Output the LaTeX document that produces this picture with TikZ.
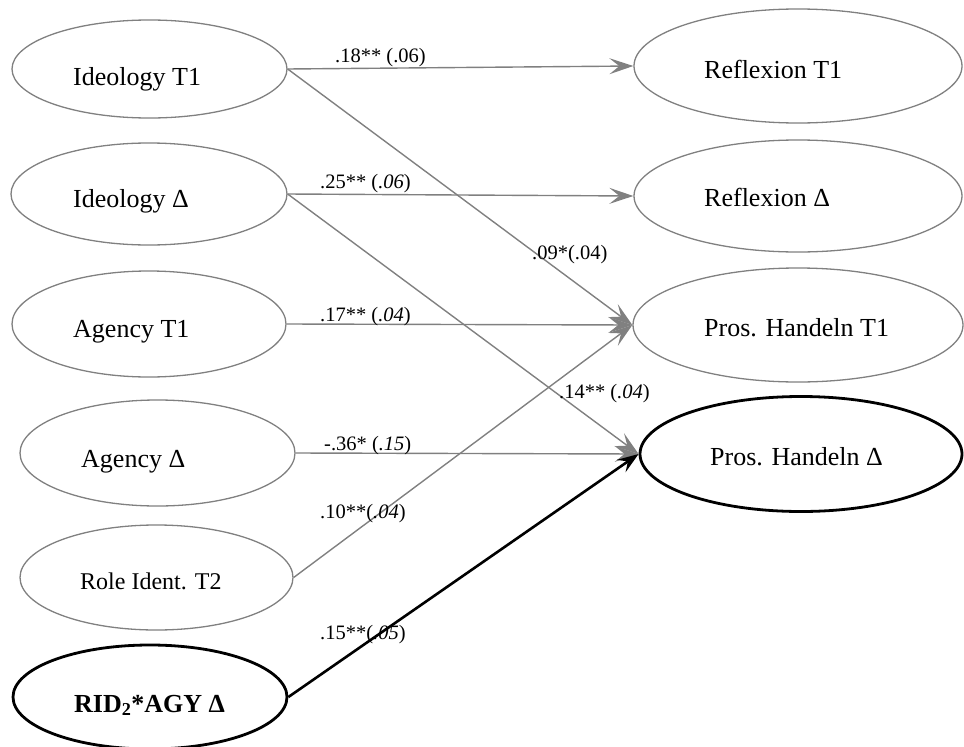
\documentclass[tikz,border=0pt]{standalone}
\usepackage{fontspec}
\setmainfont{Liberation Serif}
\usetikzlibrary{shapes.geometric,arrows.meta}
\definecolor{pathgray}{HTML}{808080}

\begin{document}
\begin{tikzpicture}[x=1pt,y=-1pt,
  latent/.style={ellipse, draw=pathgray, line width=1.3pt, inner sep=0pt},
  keylatent/.style={ellipse, draw=black, line width=2.8pt, inner sep=0pt},
  varname/.style={anchor=base west, inner sep=0pt, font=\fontsize{26}{30}\selectfont},
  coef/.style={anchor=base west, inner sep=0pt, font=\fontsize{20.5}{24}\selectfont},
  pathline/.style={draw=pathgray, line width=1.4pt, -{Stealth[length=24pt,width=16pt,inset=10pt]}},
  keypath/.style={draw=black, line width=2.6pt, -{Stealth[length=21pt,width=15pt,inset=8pt]}}
]
\useasboundingbox (0,0) rectangle (964,747);

% predictors (left column)
\node[latent, minimum width=275pt, minimum height=98pt]  (ideoT)  at (149.5,69) {};
\node[latent, minimum width=276pt, minimum height=102pt] (ideoD)  at (149,194) {};
\node[latent, minimum width=274pt, minimum height=106pt] (agT)    at (149,324) {};
\node[latent, minimum width=275pt, minimum height=106pt] (agD)    at (157.5,453) {};
\node[latent, minimum width=273pt, minimum height=105pt] (role)   at (156.5,577.5) {};
\node[keylatent, minimum width=274pt, minimum height=104pt] (rid) at (150,697) {};

% outcomes (right column)
\node[latent, minimum width=328pt, minimum height=114pt] (refT) at (798,66) {};
\node[latent, minimum width=328pt, minimum height=112pt] (refD) at (798,196) {};
\node[latent, minimum width=330pt, minimum height=114pt] (phT)  at (798,325) {};
\node[keylatent, minimum width=322pt, minimum height=115pt] (phD) at (801,454) {};

% variable names
\node[varname] (tIdeoT) at (73,85)  {Ideology T1};
\node[varname] (tIdeoD) at (73,207) {Ideology Δ};
\node[varname] (tAgT)   at (73,337) {Agency T1};
\node[varname] (tAgD)   at (81,467) {Agency Δ};
\node[varname, font=\fontsize{24}{28}\selectfont] (tRole) at (80,589) {Role Ident. T2};
\node[varname] (tRid)   at (74,712) {\textbf{RID\textsubscript{2}*AGY Δ}};
\node[varname] (tRefT)  at (704,78)  {Reflexion T1};
\node[varname] (tRefD)  at (704,206) {Reflexion Δ};
\node[varname] (tPhT)   at (704,336) {Pros. Handeln T1};
\node[varname] (tPhD)   at (710,465) {Pros. Handeln Δ};

% structural paths
\draw[pathline] (ideoT.east) -- (refT.west);
\draw[pathline] (ideoT.east) -- (phT.west);
\draw[pathline] (ideoD.east) -- (refD.west);
\draw[pathline] (ideoD.east) -- (phD.west);
\draw[pathline] (agT.east)   -- (phT.west);
\draw[pathline] (agD.east)   -- (phD.west);
\draw[pathline] (role.east)  -- (phT.west);
\draw[keypath]  (rid.east)   -- (phD.west);

% path coefficients (SE)
\node[coef] (c1) at (335,62)  {.18** (.06)};
\node[coef] (c2) at (532,259) {.09*(.04)};
\node[coef] (c3) at (320,188) {.25** (\textit{.06})};
\node[coef] (c4) at (559,398) {.14** (\textit{.04})};
\node[coef] (c5) at (320,321) {.17** (\textit{.04})};
\node[coef] (c6) at (324,450) {-.36* (\textit{.15})};
\node[coef] (c7) at (320,518) {.10**(\textit{.04})};
\node[coef] (c8) at (320,639) {.15**(\textit{.05})};
\end{tikzpicture}
\end{document}
